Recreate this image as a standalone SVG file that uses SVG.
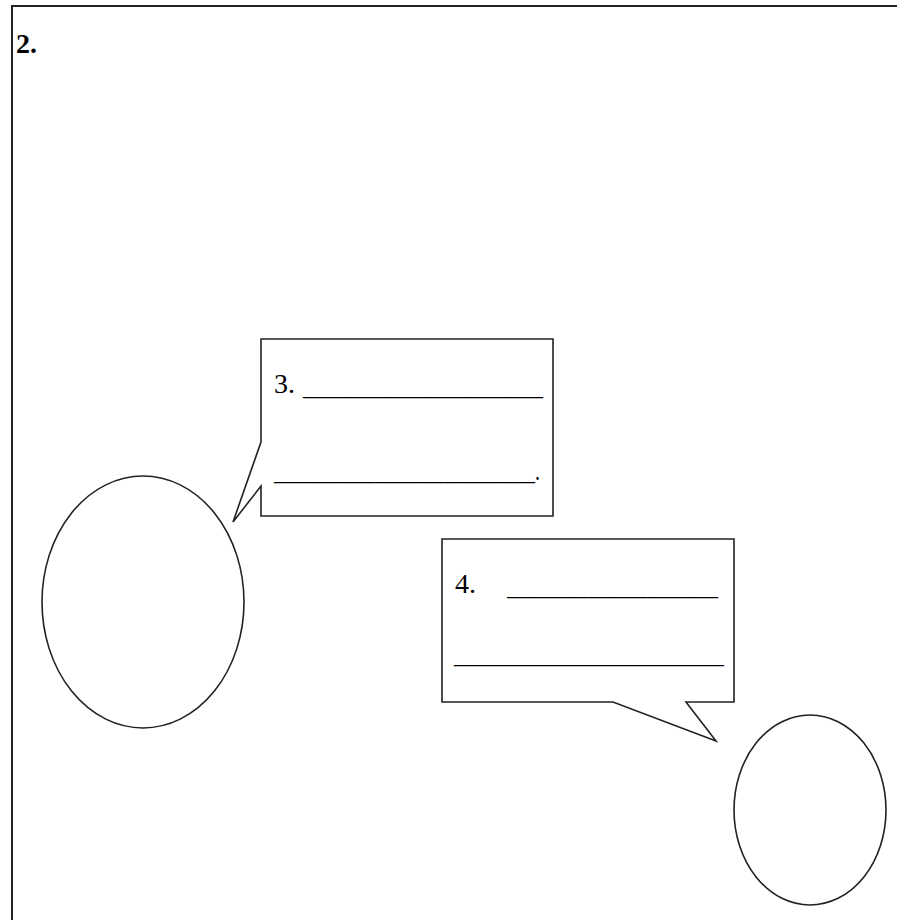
<svg xmlns="http://www.w3.org/2000/svg" width="897" height="920" viewBox="0 0 897 920">
<style>
.shape{fill:#fff;stroke:#222;stroke-width:1.6;stroke-linejoin:miter}
.t{font-family:"Liberation Serif",serif;font-size:28px;fill:#000}
.b{font-weight:bold}
</style>
<rect width="897" height="920" fill="#fff"/>
<g id="frame">
<path d="M12,920 V6 H897" fill="none" stroke="#222" stroke-width="2"/>
<text class="t b" x="16" y="53">2.</text>
</g>
<g id="bubble3">
<path class="shape" d="M261,339 H553 V516 H261 V486 L233,522 L261,442 Z"/>
<text class="t" x="274" y="393">3.</text>
<text class="t" x="303" y="395" textLength="240" lengthAdjust="spacingAndGlyphs">________________________</text>
<text class="t" x="274" y="480" textLength="266" lengthAdjust="spacingAndGlyphs">__________________________.</text>
</g>
<g id="bubble4">
<path class="shape" d="M442,539 H734 V702 H686 L716,741 L613,702 H442 Z"/>
<text class="t" x="455" y="593">4.</text>
<text class="t" x="507" y="595" textLength="211" lengthAdjust="spacingAndGlyphs">_____________________</text>
<text class="t" x="454" y="663" textLength="270" lengthAdjust="spacingAndGlyphs">___________________________</text>
</g>
<g id="circle1">
<ellipse class="shape" cx="143" cy="602" rx="101" ry="126"/>
</g>
<g id="circle2">
<ellipse class="shape" cx="810" cy="810" rx="76" ry="95"/>
</g>
<g id="connectors"></g>
</svg>
